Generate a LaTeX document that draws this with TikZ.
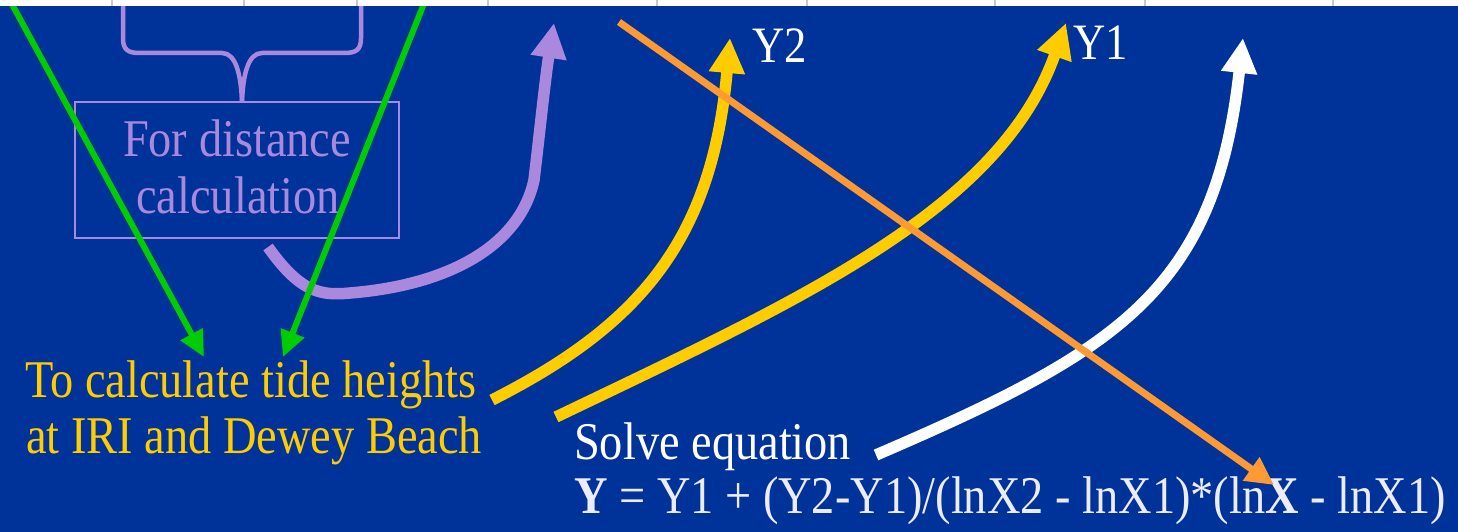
\documentclass[tikz,border=0pt]{standalone}
\usepackage{fontspec}
\setmainfont{Liberation Serif}[FakeStretch=0.875]
\usetikzlibrary{arrows.meta}
\definecolor{bgblue}{HTML}{003399}
\definecolor{tyellow}{HTML}{FFCC00}
\definecolor{tpurple}{HTML}{AA88DD}
\definecolor{tgreen}{HTML}{00CC00}
\definecolor{torange}{HTML}{FF9933}
\definecolor{sepgray}{HTML}{C8C8C8}
\definecolor{eqwhite}{HTML}{ECECFA}
\tikzset{
  bigtext/.style={font=\fontsize{53}{56}\selectfont, inner sep=0pt},
  ylabel/.style={font=\fontsize{51}{54}\selectfont, inner sep=0pt, anchor=base west, text=white},
  boxstyle/.style={draw=tpurple, line width=1.5pt, minimum width=324pt, minimum height=136pt, inner sep=0pt},
  bracestyle/.style={draw=tpurple, line width=4.5pt, line cap=butt},
  greenarrow/.style={draw=tgreen, line width=6pt, -{Triangle[length=26pt,width=24pt]}},
  orangearrow/.style={draw=torange, line width=7pt, -{Triangle[length=28pt,width=27pt]}},
  fatarrow/.style={line width=11.5pt, -{Triangle[length=35pt,width=34pt]}},
}
\begin{document}
\begin{tikzpicture}[x=1pt,y=-1pt]
\useasboundingbox (0,0) rectangle (1458,532);
\fill[bgblue] (0,0) rectangle (1458,532);

% brace above the box
\draw[bracestyle] (123,0) -- (123,38) .. controls (123,50) and (128,53) .. (140,53) -- (222,53)
   .. controls (236,53) and (241,75) .. (242,102);
\draw[bracestyle] (361,0) -- (361,38) .. controls (361,50) and (356,53) .. (344,53) -- (262,53)
   .. controls (248,53) and (243,75) .. (242,102);

% box with text
\node[boxstyle] (distbox) at (237,170) {};
\node[bigtext, text=tpurple, anchor=base] (dist1) at (237,157) {For distance};
\node[bigtext, text=tpurple, anchor=base] (dist2) at (238,213) {calculation};

% left texts
\node[bigtext, text=tyellow, anchor=base west] (tide1) at (25,397) {To calculate tide heights};
\node[bigtext, text=tyellow, anchor=base west] (tide2) at (26,453) {at IRI and Dewey Beach};

\node[bigtext, text=white, anchor=base west] (solve) at (574,459) {Solve equation};
\node[bigtext, text=eqwhite, anchor=base west] (eq) at (574,513)
  {\textbf{Y} = Y1 + (Y2-Y1)/(lnX2 - lnX1)*(ln\textbf{X} - lnX1)};

\node[ylabel] (y2) at (752,63) {Y2};
\node[ylabel] (y1) at (1073,60) {Y1};

% coordinates
\coordinate (pstart) at (268,247);
\coordinate (ptip) at (554,23);
\coordinate (y2start) at (492,400);
\coordinate (y2tip) at (730,38);
\coordinate (y1start) at (556,417);
\coordinate (y1tip) at (1066,23);
\coordinate (wstart) at (876,455);
\coordinate (wtip) at (1243,38);
\coordinate (ostart) at (619,22);
\coordinate (otip) at (1274,485);
\coordinate (gl) at (9.7,0);
\coordinate (glt) at (204,357);
\coordinate (gr) at (425.4,0);
\coordinate (grt) at (283,357);

% purple arrow
\draw[fatarrow, draw=tpurple] (pstart) .. controls (300,292) and (320,296) .. (350,293)
   .. controls (450,285) and (520,245) .. (534,180) .. controls (540,130) and (545,80) .. (ptip);

% green arrows
\draw[greenarrow] (gl) -- (glt);
\draw[greenarrow] (gr) -- (grt);

% yellow arrows
\draw[fatarrow, draw=tyellow] (y2start) .. controls (640,325) and (712,240) .. (y2tip);
\draw[fatarrow, draw=tyellow] (y1start) .. controls (800,300) and (1000,210) .. (y1tip);

% white arrow
\draw[fatarrow, draw=white] (wstart) .. controls (1120,350) and (1215,290) .. (wtip);

% orange arrow
\draw[orangearrow] (ostart) -- (otip);

% top strip
\fill[white] (0,0) rectangle (1458,6);
\foreach \x in {112,244,357,488,657,807,995,1145,1333}
  \draw[sepgray, line width=1.5pt] (\x,0) -- (\x,6);
\end{tikzpicture}
\end{document}
